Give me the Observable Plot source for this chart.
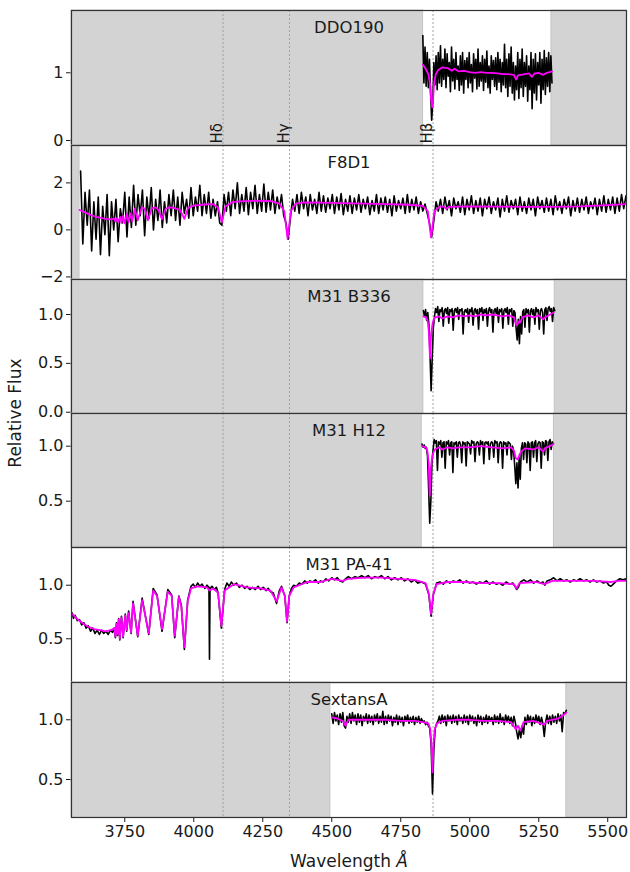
<!DOCTYPE html>
<html><head><meta charset="utf-8">
<script src="https://cdn.jsdelivr.net/npm/d3@7"></script>
<script src="https://cdn.jsdelivr.net/npm/@observablehq/plot@0.6"></script>
<style>
body{margin:0;background:#fff;font-family:"DejaVu Sans",sans-serif;color:#1a1a1a;}
#fig{position:relative;width:630px;height:872px;overflow:hidden;}
.lab{position:absolute;white-space:nowrap;font-size:17px;transform:translate(-50%,-50%);}
</style></head><body><div id="fig"></div>
<script>
// ---------- data ----------
const xDomain = [3557, 5568];
const xTicks = [3750, 4000, 4250, 4500, 4750, 5000, 5250, 5500];
const balmerWave = [4106, 4347, 4867];
const balmerLabel = ["Hδ", "Hγ", "Hβ"];
const panelNames = ["DDO190", "F8D1", "M31 B336", "M31 H12", "M31 PA-41", "SextansA"];

// DDO190 observed flux, start 4830 A, step 4 A
const ddoStart = 4830, ddoStep = 4;
const ddoFlux = [1.55,0.85,1.38,0.8,1.3,0.78,1.2,0.72,0.3,0.55,
1.15,0.82,1.25,0.75,1.3,0.85,1.4,0.8,1.2,0.9,
1.35,0.78,1.28,0.95,1.15,0.72,1.38,0.88,1.2,0.76,
1.3,0.9,1.1,0.74,1.25,0.82,1.3,0.7,1.18,0.9,
1.22,0.78,1.3,0.85,1.12,0.72,1.28,0.92,1.2,0.76,
1.35,0.8,1.15,0.88,1.25,0.74,1.2,0.86,1.32,0.78,
1.1,0.7,1.25,0.9,1.18,0.8,1.22,0.75,1.3,0.86,
1.2,0.72,1.15,0.82,1.42,0.78,1.2,0.65,1.28,0.8,
1.38,0.7,1.15,0.6,1.1,0.75,1.3,0.62,1.2,0.78,
1.35,0.65,1.15,0.8,1.25,0.58,1.1,0.75,1.3,0.47,
1.2,0.7,1.28,0.6,1.15,0.82,1.3,0.55,1.2,0.75,
1.33,0.68,1.22,0.8,1.3,0.72,1.25,0.85];
const ddoModel = [[4830,1.12],[4840,1.06],[4850,0.98],[4856,0.85],[4860,0.6],[4864,0.49],[4867,0.6],[4871,0.85],[4877,0.98],[4886,1.04],[4900,1.08],[4920,1.07],[4935,1.03],[4945,1.06],[4960,1.02],[4980,1.03],[5000,1.01],[5020,1.0],[5040,1.01],[5060,1.0],[5080,1.0],[5100,0.99],[5120,0.98],[5140,0.98],[5160,0.97],[5168,0.9],[5175,0.96],[5185,0.97],[5200,0.98],[5215,0.99],[5225,0.94],[5235,0.99],[5250,1.0],[5265,0.97],[5280,1.0],[5298,1.02]];

// F8D1 observed flux, start 3590 A, step 8 A
const f8Start = 3590, f8Step = 8;
const f8Flux = [2.5,-0.6,1.6,0.2,1.7,-0.9,1.2,-0.4,1.4,-1.05,1.0,-0.2,1.5,-1.1,
1.2,0.0,1.3,-0.5,0.9,0.3,1.6,-0.3,1.4,0.1,1.9,0.2,1.5,
0.6,1.7,-0.25,1.4,0.5,1.8,0.0,1.3,0.4,1.7,0.1,1.2,0.3,
1.5,0.6,1.7,0.4,1.4,0.2,1.6,0.7,1.3,0.5,1.8,0.6,
1.4,0.8,1.9,0.6,1.5,0.7,1.6,0.5,1.3,0.6,1.2,0.3,
0.2,
1.5,0.8,1.6,0.6,1.7,0.9,2.0,0.7,1.5,0.8,1.8,0.65,1.6,0.9,1.9,0.7,
1.5,0.8,1.95,0.75,1.6,0.85,1.7,0.7,1.4,0.9,1.5,0.6,0.3,
-0.4,0.5,
1.3,0.8,1.5,0.7,1.6,0.9,1.4,0.6,1.5,0.85,1.3,0.7,1.6,0.8,1.45,0.75,1.35,0.9,1.5,0.7,1.4,0.85,1.55,0.65,1.3,
0.8,1.45,0.7,1.35,0.85,1.5,0.75,1.3,0.9,1.4,0.65,1.25,0.8,1.5,0.7,1.35,0.85,1.4,0.75,1.3,0.6,1.45,0.8,1.25,0.9,1.35,0.7,1.5,0.75,1.3,0.85,1.4,0.7,1.2,0.8,
1.1,0.7,0.3,-0.3,0.4,1.2,
0.8,1.3,0.7,1.4,0.85,1.25,0.6,1.35,0.9,1.2,0.75,1.4,0.65,1.3,0.85,1.45,0.7,1.25,0.8,1.35,
0.6,1.3,0.9,1.4,0.7,1.2,0.85,1.35,0.55,1.3,0.8,1.45,0.75,1.25,0.9,1.3,0.65,1.4,0.8,1.2,
0.7,1.35,0.85,1.3,0.6,1.4,0.9,1.25,0.75,1.35,0.8,1.3,0.65,1.45,0.85,1.2,0.7,1.3,0.9,1.4,
0.6,1.25,0.8,1.35,0.75,1.3,0.85,1.4,0.7,1.2,0.9,1.35,0.65,1.3,0.8,1.45,0.75,1.3,0.85,1.4,
0.7,1.35,0.8,1.5,0.9,1.45];
const f8Model = [[3586,0.85],[3600,0.78],[3620,0.66],[3640,0.58],[3660,0.52],[3680,0.47],[3700,0.45],[3712,0.48],[3716,0.35],[3722,0.5],[3726,0.33],[3734,0.55],[3738,0.3],[3744,0.6],[3750,0.28],[3758,0.68],[3764,0.32],[3771,0.7],[3777,0.36],[3786,0.9],[3797,0.41],[3812,0.96],[3822,0.9],[3834,0.41],[3848,0.92],[3862,0.96],[3872,0.85],[3885,0.45],[3898,0.9],[3912,0.96],[3925,0.95],[3935,0.9],[3950,0.85],[3966,0.47],[3980,0.95],[4000,1.03],[4040,1.08],[4070,1.1],[4088,0.95],[4102,0.32],[4115,1.0],[4140,1.18],[4180,1.22],[4230,1.24],[4280,1.22],[4310,1.12],[4328,0.8],[4340,-0.38],[4352,0.8],[4370,1.12],[4400,1.17],[4460,1.16],[4540,1.14],[4620,1.12],[4700,1.1],[4780,1.07],[4830,1.02],[4848,0.8],[4860,-0.33],[4872,0.8],[4890,0.98],[4905,1.0],[4915,0.9],[4925,0.98],[5000,1.0],[5100,0.99],[5200,0.98],[5300,0.98],[5400,1.0],[5500,1.05],[5568,1.1]];

// M31 B336 observed flux, start 4832 A, step 4 A
const b336Start = 4832, b336Step = 4;
const b336Flux = [1.04,0.98,1.05,0.94,1.02,0.9,0.6,0.22,0.55,0.86,
0.97,1.06,1.02,1.08,0.93,1.05,1.03,1.07,0.88,1.04,
1.06,1.01,1.07,0.91,1.05,1.03,1.06,0.84,1.04,1.06,
1.02,1.07,0.95,1.05,1.04,1.06,0.8,1.03,1.05,1.02,
1.06,0.92,1.05,1.03,1.07,0.89,1.04,1.06,1.01,1.05,
0.85,1.06,1.03,1.07,0.94,1.05,1.02,1.06,0.88,1.04,
1.07,1.02,1.05,0.82,1.04,1.06,1.01,1.07,0.92,1.05,
1.03,1.06,0.86,1.04,1.06,1.02,1.07,0.9,1.05,1.03,
1.06,0.88,1.04,1.02,0.86,0.74,0.95,0.7,0.98,0.8,
1.03,1.05,0.87,1.06,1.02,1.05,0.82,1.04,1.06,1.0,
1.05,0.9,1.07,1.03,1.05,0.85,1.04,1.06,1.02,0.8,
1.05,1.07,0.94,1.06,1.08,1.03,1.06,0.93,1.07,1.04];
const b336Model = [[4832,0.98],[4842,0.97],[4848,0.93],[4852,0.82],[4856,0.55],[4860,0.8],[4866,0.92],[4874,0.97],[4890,0.98],[4900,0.96],[4920,0.98],[4940,0.97],[4960,0.99],[4980,0.98],[5000,0.99],[5020,0.98],[5040,1.0],[5060,0.99],[5080,1.0],[5100,0.99],[5120,0.98],[5140,0.99],[5160,0.97],[5167,0.9],[5172,0.89],[5178,0.93],[5184,0.92],[5190,0.97],[5210,0.99],[5230,0.97],[5250,0.99],[5266,0.95],[5272,0.97],[5285,0.99],[5304,1.02]];

// M31 H12 observed flux, start 4827 A, step 4 A
const h12Start = 4827, h12Step = 4;
const h12Flux = [1.02,0.99,1.01,0.98,0.99,0.91,0.62,0.3,0.5,0.84,
0.96,1.06,1.03,1.05,0.78,1.04,1.02,1.05,0.9,1.03,
1.04,0.8,1.04,1.02,1.05,0.92,1.03,1.04,0.76,1.03,
1.02,1.04,0.9,1.03,1.04,1.01,0.85,1.04,1.02,1.03,
0.82,1.04,1.03,1.02,0.93,1.05,1.03,1.04,0.86,1.02,
1.04,1.03,0.92,1.05,1.02,1.04,0.84,1.03,1.04,1.02,
1.04,0.88,1.02,1.04,1.03,0.9,1.05,1.03,1.04,0.85,
1.02,1.04,1.03,0.8,1.04,1.02,1.03,0.92,1.04,1.03,
1.02,0.88,1.0,0.96,0.82,0.66,0.85,0.62,0.9,0.7,
0.98,1.03,0.88,1.03,1.02,0.85,1.04,1.02,0.78,1.03,
1.04,0.9,1.03,1.05,0.86,1.02,1.04,1.03,0.8,1.04,
1.03,0.92,1.05,1.04,0.87,1.04,1.06,0.97,1.04,1.02];
const h12Model = [[4827,1.0],[4841,0.99],[4847,0.95],[4851,0.85],[4855,0.55],[4859,0.8],[4865,0.92],[4873,0.97],[4890,0.99],[4900,0.97],[4920,0.99],[4940,0.98],[4960,0.99],[5000,0.99],[5040,1.0],[5080,0.99],[5120,0.98],[5150,0.99],[5160,0.96],[5167,0.89],[5174,0.88],[5180,0.92],[5186,0.95],[5200,0.98],[5230,0.97],[5250,0.99],[5266,0.95],[5272,0.98],[5290,1.0],[5303,1.02]];

// M31 PA-41 observed flux [wavelength, flux]
const pa41Flux = [[3560,0.74],[3564,0.69],[3570,0.72],[3578,0.67],[3586,0.68],[3594,0.63],[3602,0.65],[3610,0.6],[3618,0.62],[3626,0.57],[3634,0.6],[3642,0.55],[3650,0.58],[3658,0.54],[3666,0.58],[3674,0.55],[3682,0.57],[3690,0.54],[3698,0.58],[3706,0.56],[3712,0.6],[3716,0.51],[3720,0.65],[3724,0.53],[3728,0.69],[3732,0.49],[3738,0.71],[3744,0.51],[3752,0.73],[3757,0.57],[3764,0.76],[3773,0.55],[3780,0.85],[3797,0.52],[3813,0.88],[3837,0.54],[3853,0.97],[3867,0.91],[3885,0.57],[3906,0.96],[3920,0.91],[3931,0.51],[3946,0.9],[3955,0.81],[3966,0.4],[3978,0.86],[3990,0.99],[3998,1.01],[4006,0.98],[4014,1.02],[4022,0.99],[4030,1.01],[4040,0.97],[4048,1.0],[4055,0.98],[4057,0.31],[4059,0.97],[4066,0.99],[4074,0.96],[4082,0.98],[4088,0.93],[4100,0.6],[4112,0.96],[4120,1.02],[4128,0.99],[4136,1.03],[4145,1.0],[4155,1.02],[4165,0.98],[4175,1.0],[4185,0.97],[4193,0.99],[4203,0.96],[4213,0.98],[4223,0.96],[4233,0.99],[4242,0.96],[4252,0.98],[4262,0.95],[4270,0.97],[4278,0.94],[4288,0.93],[4300,0.83],[4310,0.95],[4318,0.99],[4330,0.9],[4338,0.65],[4346,0.9],[4354,0.97],[4362,1.0],[4372,0.99],[4382,1.02],[4392,1.01],[4402,1.04],[4411,1.02],[4421,1.04],[4431,1.03],[4441,1.05],[4451,1.02],[4459,1.04],[4469,1.03],[4479,1.06],[4489,1.04],[4500,1.07],[4510,1.05],[4520,1.07],[4530,1.04],[4540,1.03],[4550,1.06],[4560,1.08],[4572,1.06],[4584,1.08],[4596,1.07],[4608,1.09],[4620,1.07],[4632,1.09],[4644,1.06],[4656,1.08],[4668,1.07],[4680,1.09],[4692,1.06],[4704,1.08],[4716,1.05],[4728,1.07],[4740,1.05],[4752,1.07],[4764,1.04],[4776,1.06],[4788,1.03],[4800,1.05],[4812,1.02],[4826,1.03],[4840,1.01],[4852,0.91],[4860,0.71],[4868,0.91],[4880,1.02],[4892,1.03],[4904,1.01],[4916,1.04],[4928,1.02],[4940,1.04],[4952,1.03],[4964,1.05],[4976,1.02],[4988,1.04],[5000,1.02],[5012,1.03],[5024,1.01],[5036,1.03],[5048,1.02],[5060,1.04],[5072,1.01],[5084,1.03],[5096,1.01],[5108,1.02],[5120,1.0],[5132,1.03],[5144,1.01],[5156,1.02],[5164,0.99],[5170,0.96],[5176,0.98],[5184,1.03],[5196,1.05],[5208,1.03],[5220,1.05],[5232,1.02],[5244,1.04],[5256,1.02],[5266,1.03],[5272,1.0],[5280,1.04],[5292,1.05],[5304,1.07],[5316,1.04],[5328,1.06],[5340,1.04],[5352,1.05],[5364,1.03],[5376,1.05],[5388,1.04],[5400,1.06],[5412,1.04],[5424,1.05],[5436,1.03],[5448,1.05],[5460,1.03],[5472,1.04],[5484,1.02],[5496,1.03],[5504,1.0],[5512,0.99],[5520,1.01],[5532,1.04],[5544,1.06],[5556,1.05],[5568,1.06]];
const pa41Model = [[3560,0.73],[3580,0.68],[3600,0.64],[3620,0.61],[3640,0.59],[3660,0.58],[3680,0.57],[3700,0.58],[3712,0.6],[3716,0.52],[3720,0.64],[3724,0.54],[3728,0.68],[3732,0.5],[3738,0.7],[3744,0.52],[3752,0.72],[3757,0.58],[3764,0.74],[3773,0.56],[3780,0.83],[3797,0.53],[3813,0.86],[3837,0.55],[3853,0.95],[3867,0.9],[3885,0.59],[3906,0.94],[3920,0.9],[3931,0.53],[3946,0.89],[3955,0.8],[3966,0.42],[3978,0.85],[3990,0.97],[4012,0.99],[4048,0.98],[4057,0.95],[4070,0.97],[4088,0.93],[4100,0.62],[4112,0.95],[4145,1.01],[4193,0.98],[4242,0.97],[4278,0.95],[4300,0.85],[4318,0.98],[4330,0.9],[4338,0.66],[4346,0.9],[4362,0.98],[4411,1.03],[4459,1.03],[4500,1.06],[4540,1.04],[4560,1.06],[4620,1.07],[4680,1.07],[4740,1.06],[4800,1.05],[4840,1.02],[4852,0.92],[4860,0.73],[4868,0.92],[4880,1.01],[4920,1.03],[4980,1.03],[5040,1.02],[5100,1.02],[5160,1.01],[5170,0.97],[5180,1.02],[5240,1.03],[5270,1.01],[5300,1.04],[5380,1.04],[5450,1.04],[5510,1.03],[5540,1.04],[5568,1.04]];

// Sextans A observed flux, start 4500 A, step 5 A
const sexStart = 4500, sexStep = 5;
const sexFlux = [1.05,0.97,1.06,0.99,1.04,0.96,1.05,0.98,1.06,0.95,
0.93,1.03,0.98,1.05,0.97,1.06,0.99,1.04,0.96,1.05,
0.98,1.04,0.95,1.03,0.99,1.05,0.97,1.04,0.98,1.03,
0.96,1.04,0.99,1.05,0.97,1.03,0.98,1.07,0.96,1.03,
0.97,1.04,0.99,1.03,0.95,1.02,0.98,1.04,0.96,1.03,
0.98,1.02,0.95,1.03,0.99,1.04,0.97,1.02,0.98,1.03,
0.96,1.02,0.98,1.03,0.97,1.01,0.98,0.99,0.96,0.98,
0.95,0.93,0.8,0.38,0.75,0.93,0.97,0.99,1.03,0.97,
1.04,0.98,1.03,0.95,1.04,0.99,1.03,0.97,1.04,0.98,
1.03,0.96,1.04,0.99,1.02,0.97,1.04,0.98,1.03,0.96,
1.04,0.99,1.03,0.97,1.02,0.95,1.04,0.98,1.03,0.96,
1.02,0.98,1.04,0.97,1.03,0.99,1.02,0.96,1.04,0.98,
1.03,0.97,1.05,0.98,1.02,0.96,1.04,0.99,1.03,0.97,
1.02,0.95,1.03,0.98,0.9,0.84,0.92,0.85,0.95,0.88,
1.02,0.96,1.04,0.98,1.03,0.95,1.02,0.97,1.04,0.98,
1.03,0.96,1.02,0.97,0.86,0.98,1.04,0.97,1.03,0.96,
1.04,0.98,1.03,0.97,1.05,0.99,1.04,0.9,1.06,1.05,1.08];
const sexModel = [[4500,1.02],[4520,1.01],[4540,0.99],[4550,0.95],[4560,1.0],[4600,1.0],[4650,1.0],[4700,1.0],[4750,0.99],[4800,0.99],[4830,0.98],[4850,0.97],[4857,0.92],[4861,0.8],[4865,0.56],[4869,0.8],[4873,0.92],[4882,0.97],[4900,0.99],[4950,1.0],[5000,1.0],[5050,0.99],[5100,0.99],[5150,0.98],[5167,0.92],[5175,0.95],[5184,0.91],[5195,0.98],[5230,0.99],[5270,0.96],[5280,0.99],[5320,1.01],[5340,1.04],[5350,1.06]];

// coverage gaps (grey) per panel
const ddoGaps = [[3557,4831],[5296,5568]];
const f8Gaps = [[3557,3586]];
const b336Gaps = [[3557,4832],[5308,5568]];
const h12Gaps = [[3557,4826],[5305,5568]];
const pa41Gaps = [];
const sexGaps = [[3557,4495],[5350,5568]];

// y axes
const yDomains = [[-0.074,1.92],[-2.11,3.59],[-0.013,1.358],[0.079,1.297],[0.092,1.352],[0.182,1.312]];
const yTicks = [[0,1],[-2,0,2],[0,0.5,1],[0.5,1],[0.5,1],[0.5,1]];

// ---------- drawing ----------
const grid = (start, step, arr) => arr.map((f, i) => [start + i * step, f]);
const panels = [
  {black: grid(ddoStart, ddoStep, ddoFlux), model: ddoModel, gaps: ddoGaps, fmt: d3.format("d"), labels: true},
  {black: grid(f8Start, f8Step, f8Flux), model: f8Model, gaps: f8Gaps, fmt: d3.format("d")},
  {black: grid(b336Start, b336Step, b336Flux), model: b336Model, gaps: b336Gaps, fmt: d3.format(".1f")},
  {black: grid(h12Start, h12Step, h12Flux), model: h12Model, gaps: h12Gaps, fmt: d3.format(".1f")},
  {black: pa41Flux, model: pa41Model, gaps: pa41Gaps, fmt: d3.format(".1f")},
  {black: grid(sexStart, sexStep, sexFlux), model: sexModel, gaps: sexGaps, fmt: d3.format(".1f")}
];
const edges = [10,145,279,413,547,682,817];
const fig = document.getElementById("fig");
const FONT = "DejaVu Sans";

panels.forEach((p, i) => {
  const H = edges[i+1] - edges[i];
  const last = i === panels.length - 1;
  const mb = last ? 56 : 1;
  const yd = yDomains[i];
  const lineLab = balmerWave.map((w, k) => ({w, t: balmerLabel[k]}));
  const marks = [
    Plot.rect(p.gaps, {x1: d => d[0], x2: d => d[1], y1: yd[0], y2: yd[1], fill: "#d3d3d3", stroke: "#c4c4c4", strokeWidth: 1}),
    Plot.ruleX(balmerWave, {stroke: "#9a9a9a", strokeWidth: 0.9, strokeDasharray: "2,2"}),
    Plot.line(p.black, {x: d => d[0], y: d => d[1], stroke: "#000", strokeWidth: 1.6, clip: true}),
    Plot.line(p.model, {x: d => d[0], y: d => d[1], stroke: "#ff00ff", strokeWidth: 1.8, clip: true}),
    Plot.text([panelNames[i]], {text: d => d, frameAnchor: "top", lineAnchor: "middle", dy: 17, fontSize: 16.5, fill: "#1a1a1a"}),
    Plot.frame({stroke: "#333", strokeWidth: 1.2})
  ];
  if (p.labels) {
    marks.push(Plot.text(lineLab, {x: "w", text: "t", frameAnchor: "bottom", lineAnchor: "middle", rotate: -90, textAnchor: "start", dx: -5.5, dy: -2, fontSize: 15, fill: "#1a1a1a"}));
  }
  const svg = Plot.plot({
    width: 630, height: H + 1 + mb,
    marginLeft: 71, marginRight: 4, marginTop: 1, marginBottom: mb,
    x: {domain: xDomain, axis: last ? "bottom" : null, ticks: xTicks, tickSize: 5, tickPadding: 3, label: null, tickFormat: d3.format("d")},
    y: {domain: yd, ticks: yTicks[i], tickFormat: p.fmt, tickSize: 5, tickPadding: 3, label: null},
    style: {background: "none", fontFamily: FONT, fontSize: "16px", color: "#1a1a1a", overflow: "visible"},
    marks
  });
  svg.style.position = "absolute";
  svg.style.left = "0px";
  svg.style.top = (edges[i] - 1) + "px";
  fig.appendChild(svg);
});

const yl = document.createElement("div");
yl.className = "lab";
yl.textContent = "Relative Flux";
yl.style.left = "15px"; yl.style.top = "413px";
yl.style.transform = "translate(-50%,-50%) rotate(-90deg)";
fig.appendChild(yl);

const xl = document.createElement("div");
xl.className = "lab";
xl.innerHTML = "Wavelength <span style=\"font-style:italic\">Å</span>";
xl.style.left = "349px"; xl.style.top = "861px";
fig.appendChild(xl);
</script></body></html>
